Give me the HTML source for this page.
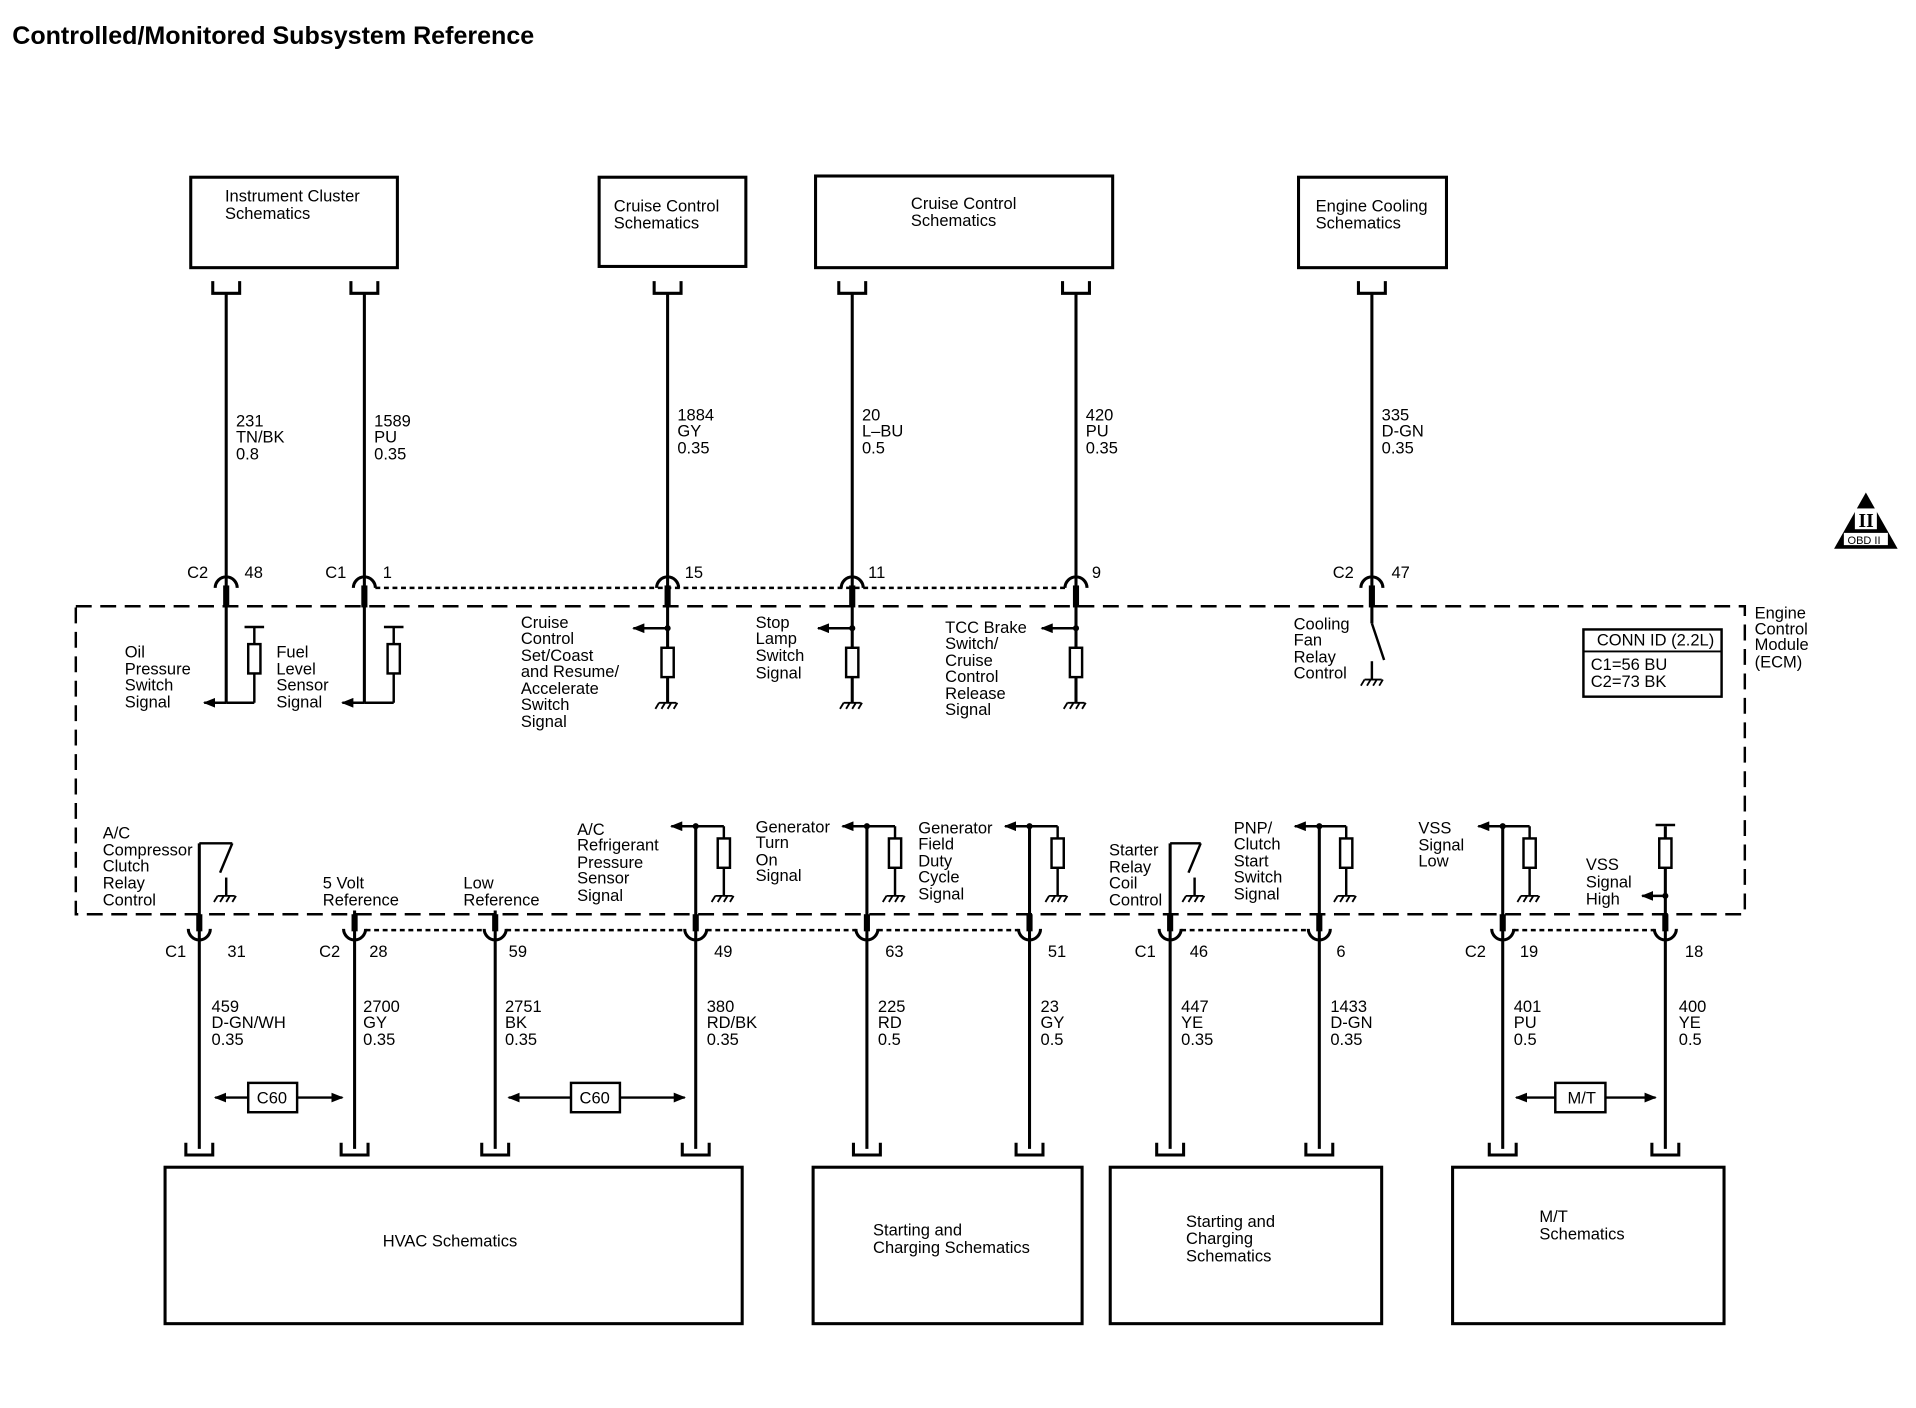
<!DOCTYPE html>
<html><head><meta charset="utf-8"><style>
html,body{margin:0;padding:0;background:#fff;}
svg{display:block;}
text{font-family:"Liberation Sans",Arial,sans-serif;font-size:13.5px;fill:#000;}
</style></head><body>
<svg width="1916" height="1408" viewBox="0 0 1567 1152" preserveAspectRatio="none" xmlns="http://www.w3.org/2000/svg">
<defs>
<marker id="ar" markerWidth="10" markerHeight="8" refX="9" refY="4" orient="auto" markerUnits="userSpaceOnUse"><path d="M0,0 L10,4 L0,8 z" fill="#000"/></marker>
<g id="cn"><path d="M-11,-6 V4 H11 V-6" fill="none" stroke="#000" stroke-width="2.5"/></g>
<g id="pin"><path d="M-9,8 A9,9 0 0 1 9,8" fill="none" stroke="#000" stroke-width="2.5"/><line x1="0" y1="6" x2="0" y2="24" stroke="#000" stroke-width="5"/></g>
<g id="bpin"><path d="M-9,0 A9,9 0 0 0 9,0" fill="none" stroke="#000" stroke-width="2.5"/><line x1="0" y1="-12" x2="0" y2="2" stroke="#000" stroke-width="5"/></g>
<g id="gnd"><path d="M-7,0 H7 M-7,0 l-3,5 M-2,0 l-3,5 M3,0 l-3,5 M8,0 l-3,5" stroke="#000" stroke-width="1.5" fill="none"/></g>
</defs>
<text x="10" y="36" style="font-size:20.5px;font-weight:bold">Controlled/Monitored Subsystem Reference</text>

<g fill="none" stroke="#000" stroke-width="2.5">
<rect x="156" y="145" width="169" height="74"/>
<rect x="490" y="145" width="120" height="73"/>
<rect x="667" y="144" width="243" height="75"/>
<rect x="1062" y="145" width="121" height="74"/>
<rect x="135" y="955" width="472" height="128"/>
<rect x="665" y="955" width="220" height="128"/>
<rect x="908" y="955" width="222" height="128"/>
<rect x="1188" y="955" width="222" height="128"/>
</g>
<text x="184" y="165">Instrument Cluster</text><text x="184" y="179">Schematics</text>
<text x="502" y="173">Cruise Control</text><text x="502" y="187">Schematics</text>
<text x="745" y="171">Cruise Control</text><text x="745" y="185">Schematics</text>
<text x="1076" y="173">Engine Cooling</text><text x="1076" y="187">Schematics</text>
<text x="313" y="1020">HVAC Schematics</text>
<text x="714" y="1011">Starting and</text><text x="714" y="1025">Charging Schematics</text>
<text x="970" y="1004">Starting and</text><text x="970" y="1018">Charging</text><text x="970" y="1032">Schematics</text>
<text x="1259" y="1000">M/T</text><text x="1259" y="1014">Schematics</text>

<g stroke="#000" stroke-width="2.5">
<line x1="185" y1="240" x2="185" y2="575"/>
<line x1="298" y1="240" x2="298" y2="575"/>
<line x1="546" y1="240" x2="546" y2="575"/>
<line x1="697" y1="240" x2="697" y2="575"/>
<line x1="880" y1="240" x2="880" y2="575"/>
<line x1="1122" y1="240" x2="1122" y2="510"/>
</g>
<use href="#cn" x="185" y="236"/><use href="#cn" x="298" y="236"/><use href="#cn" x="546" y="236"/>
<use href="#cn" x="697" y="236"/><use href="#cn" x="880" y="236"/><use href="#cn" x="1122" y="236"/>
<use href="#pin" x="185" y="473"/><use href="#pin" x="298" y="473"/><use href="#pin" x="546" y="473"/>
<use href="#pin" x="697" y="473"/><use href="#pin" x="880" y="473"/><use href="#pin" x="1122" y="473"/>
<line x1="307" y1="481" x2="871" y2="481" stroke="#000" stroke-width="2" stroke-dasharray="4,3"/>

<text x="193" y="349">231</text><text x="193" y="362">TN/BK</text><text x="193" y="376">0.8</text>
<text x="306" y="349">1589</text><text x="306" y="362">PU</text><text x="306" y="376">0.35</text>
<text x="554" y="344">1884</text><text x="554" y="357">GY</text><text x="554" y="371">0.35</text>
<text x="705" y="344">20</text><text x="705" y="357">L–BU</text><text x="705" y="371">0.5</text>
<text x="888" y="344">420</text><text x="888" y="357">PU</text><text x="888" y="371">0.35</text>
<text x="1130" y="344">335</text><text x="1130" y="357">D-GN</text><text x="1130" y="371">0.35</text>

<text x="153" y="473">C2</text><text x="200" y="473">48</text>
<text x="266" y="473">C1</text><text x="313" y="473">1</text>
<text x="560" y="473">15</text><text x="710" y="473">11</text><text x="893" y="473">9</text>
<text x="1090" y="473">C2</text><text x="1138" y="473">47</text>

<rect x="62" y="496" width="1365" height="252" fill="none" stroke="#000" stroke-width="2" stroke-dasharray="13,7"/>
<text x="1435" y="506">Engine</text><text x="1435" y="519">Control</text><text x="1435" y="532">Module</text><text x="1435" y="546">(ECM)</text>
<rect x="1295" y="515" width="113" height="55" fill="none" stroke="#000" stroke-width="2"/>
<line x1="1295" y1="533" x2="1408" y2="533" stroke="#000" stroke-width="1.5"/>
<text x="1306" y="528">CONN ID (2.2L)</text><text x="1301" y="548">C1=56 BU</text><text x="1301" y="562">C2=73 BK</text>

<path d="M1526,403 L1552,449 L1500,449 Z" fill="#000"/>
<rect x="1517" y="416" width="18" height="17" fill="#fff"/>
<text x="1520" y="431" style="font-size:16px;font-weight:bold;font-family:'Liberation Serif',serif">II</text>
<rect x="1508" y="436" width="36" height="10" fill="#fff"/>
<text x="1511" y="445" style="font-size:9px">OBD II</text>

<g stroke="#000" stroke-width="2" fill="#fff">
<line x1="185" y1="575" x2="167" y2="575" marker-end="url(#ar)"/>
<line x1="208" y1="513" x2="208" y2="575"/><line x1="200" y1="513" x2="216" y2="513"/><line x1="185" y1="575" x2="208" y2="575"/>
<rect x="203" y="527" width="10" height="24"/>
<line x1="298" y1="575" x2="280" y2="575" marker-end="url(#ar)"/>
<line x1="322" y1="513" x2="322" y2="575"/><line x1="314" y1="513" x2="330" y2="513"/><line x1="298" y1="575" x2="322" y2="575"/>
<rect x="317" y="527" width="10" height="24"/>
<line x1="546" y1="514" x2="518" y2="514" marker-end="url(#ar)"/><rect x="541" y="530" width="10" height="24"/>
<line x1="697" y1="514" x2="669" y2="514" marker-end="url(#ar)"/><rect x="692" y="530" width="10" height="24"/>
<line x1="880" y1="514" x2="852" y2="514" marker-end="url(#ar)"/><rect x="875" y="530" width="10" height="24"/>
<line x1="1122" y1="510" x2="1132" y2="540" /><line x1="1122" y1="541" x2="1122" y2="556"/>
</g>
<g fill="#000"><circle cx="546" cy="514" r="2.5"/><circle cx="697" cy="514" r="2.5"/><circle cx="880" cy="514" r="2.5"/></g>
<use href="#gnd" x="546" y="575"/><use href="#gnd" x="697" y="575"/><use href="#gnd" x="880" y="575"/><use href="#gnd" x="1123" y="556"/>

<text x="102" y="538">Oil</text><text x="102" y="552">Pressure</text><text x="102" y="565">Switch</text><text x="102" y="579">Signal</text>
<text x="226" y="538">Fuel</text><text x="226" y="552">Level</text><text x="226" y="565">Sensor</text><text x="226" y="579">Signal</text>
<text x="426" y="514">Cruise</text><text x="426" y="527">Control</text><text x="426" y="541">Set/Coast</text><text x="426" y="554">and Resume/</text><text x="426" y="568">Accelerate</text><text x="426" y="581">Switch</text><text x="426" y="595">Signal</text>
<text x="618" y="514">Stop</text><text x="618" y="527">Lamp</text><text x="618" y="541">Switch</text><text x="618" y="555">Signal</text>
<text x="773" y="518">TCC Brake</text><text x="773" y="531">Switch/</text><text x="773" y="545">Cruise</text><text x="773" y="558">Control</text><text x="773" y="572">Release</text><text x="773" y="585">Signal</text>
<text x="1058" y="515">Cooling</text><text x="1058" y="528">Fan</text><text x="1058" y="542">Relay</text><text x="1058" y="555">Control</text>

<g stroke="#000" stroke-width="2.5">
<line x1="163" y1="690" x2="163" y2="940"/>
<line x1="290" y1="745" x2="290" y2="940"/>
<line x1="405" y1="745" x2="405" y2="940"/>
<line x1="569" y1="676" x2="569" y2="940"/>
<line x1="709" y1="676" x2="709" y2="940"/>
<line x1="842" y1="676" x2="842" y2="940"/>
<line x1="957" y1="690" x2="957" y2="940"/>
<line x1="1079" y1="676" x2="1079" y2="940"/>
<line x1="1229" y1="676" x2="1229" y2="940"/>
<line x1="1362" y1="676" x2="1362" y2="940"/>
</g>
<g>
<use href="#bpin" x="163" y="760"/><use href="#bpin" x="290" y="760"/><use href="#bpin" x="405" y="760"/><use href="#bpin" x="569" y="760"/>
<use href="#bpin" x="709" y="760"/><use href="#bpin" x="842" y="760"/><use href="#bpin" x="957" y="760"/><use href="#bpin" x="1079" y="760"/>
<use href="#bpin" x="1229" y="760"/><use href="#bpin" x="1362" y="760"/>
<use href="#cn" x="163" y="941"/><use href="#cn" x="290" y="941"/><use href="#cn" x="405" y="941"/><use href="#cn" x="569" y="941"/>
<use href="#cn" x="709" y="941"/><use href="#cn" x="842" y="941"/><use href="#cn" x="957" y="941"/><use href="#cn" x="1079" y="941"/>
<use href="#cn" x="1229" y="941"/><use href="#cn" x="1362" y="941"/>
</g>
<g stroke="#000" stroke-width="2" stroke-dasharray="4,3">
<line x1="299" y1="761" x2="396" y2="761"/><line x1="414" y1="761" x2="560" y2="761"/>
<line x1="578" y1="761" x2="700" y2="761"/><line x1="718" y1="761" x2="833" y2="761"/>
<line x1="966" y1="761" x2="1070" y2="761"/><line x1="1238" y1="761" x2="1353" y2="761"/>
</g>

<text x="135" y="783">C1</text><text x="186" y="783">31</text>
<text x="261" y="783">C2</text><text x="302" y="783">28</text>
<text x="416" y="783">59</text><text x="584" y="783">49</text><text x="724" y="783">63</text><text x="857" y="783">51</text>
<text x="928" y="783">C1</text><text x="973" y="783">46</text><text x="1093" y="783">6</text>
<text x="1198" y="783">C2</text><text x="1243" y="783">19</text><text x="1378" y="783">18</text>

<text x="173" y="828">459</text><text x="173" y="841">D-GN/WH</text><text x="173" y="855">0.35</text>
<text x="297" y="828">2700</text><text x="297" y="841">GY</text><text x="297" y="855">0.35</text>
<text x="413" y="828">2751</text><text x="413" y="841">BK</text><text x="413" y="855">0.35</text>
<text x="578" y="828">380</text><text x="578" y="841">RD/BK</text><text x="578" y="855">0.35</text>
<text x="718" y="828">225</text><text x="718" y="841">RD</text><text x="718" y="855">0.5</text>
<text x="851" y="828">23</text><text x="851" y="841">GY</text><text x="851" y="855">0.5</text>
<text x="966" y="828">447</text><text x="966" y="841">YE</text><text x="966" y="855">0.35</text>
<text x="1088" y="828">1433</text><text x="1088" y="841">D-GN</text><text x="1088" y="855">0.35</text>
<text x="1238" y="828">401</text><text x="1238" y="841">PU</text><text x="1238" y="855">0.5</text>
<text x="1373" y="828">400</text><text x="1373" y="841">YE</text><text x="1373" y="855">0.5</text>

<g stroke="#000" stroke-width="2" fill="none">
<line x1="203" y1="898" x2="176" y2="898" marker-end="url(#ar)"/><line x1="243" y1="898" x2="280" y2="898" marker-end="url(#ar)"/>
<rect x="203" y="886" width="40" height="24"/>
<line x1="467" y1="898" x2="416" y2="898" marker-end="url(#ar)"/><line x1="507" y1="898" x2="560" y2="898" marker-end="url(#ar)"/>
<rect x="467" y="886" width="40" height="24"/>
<line x1="1272" y1="898" x2="1240" y2="898" marker-end="url(#ar)"/><line x1="1313" y1="898" x2="1354" y2="898" marker-end="url(#ar)"/>
<rect x="1272" y="886" width="41" height="24"/>
</g>
<text x="210" y="903">C60</text><text x="474" y="903">C60</text><text x="1282" y="903">M/T</text>

<g stroke="#000" stroke-width="2" fill="#fff">
<line x1="163" y1="690" x2="190" y2="690"/><line x1="190" y1="690" x2="180" y2="714"/><line x1="185" y1="718" x2="185" y2="733"/>
<line x1="957" y1="690" x2="982" y2="690"/><line x1="982" y1="690" x2="972" y2="714"/><line x1="977" y1="718" x2="977" y2="733"/>
<line x1="569" y1="676" x2="549" y2="676" marker-end="url(#ar)"/><line x1="569" y1="676" x2="592" y2="676"/><line x1="592" y1="676" x2="592" y2="733"/><rect x="587" y="686" width="10" height="24"/>
<line x1="709" y1="676" x2="689" y2="676" marker-end="url(#ar)"/><line x1="709" y1="676" x2="732" y2="676"/><line x1="732" y1="676" x2="732" y2="733"/><rect x="727" y="686" width="10" height="24"/>
<line x1="842" y1="676" x2="822" y2="676" marker-end="url(#ar)"/><line x1="842" y1="676" x2="865" y2="676"/><line x1="865" y1="676" x2="865" y2="733"/><rect x="860" y="686" width="10" height="24"/>
<line x1="1079" y1="676" x2="1059" y2="676" marker-end="url(#ar)"/><line x1="1079" y1="676" x2="1101" y2="676"/><line x1="1101" y1="676" x2="1101" y2="733"/><rect x="1096" y="686" width="10" height="24"/>
<line x1="1229" y1="676" x2="1209" y2="676" marker-end="url(#ar)"/><line x1="1229" y1="676" x2="1251" y2="676"/><line x1="1251" y1="676" x2="1251" y2="733"/><rect x="1246" y="686" width="10" height="24"/>
<line x1="1354" y1="675" x2="1370" y2="675"/><rect x="1357" y="686" width="10" height="24"/>
<line x1="1362" y1="733" x2="1343" y2="733" marker-end="url(#ar)"/>
</g>
<use href="#gnd" x="185" y="733"/><use href="#gnd" x="977" y="733"/><use href="#gnd" x="592" y="733"/><use href="#gnd" x="732" y="733"/>
<use href="#gnd" x="865" y="733"/><use href="#gnd" x="1101" y="733"/><use href="#gnd" x="1251" y="733"/>
<g fill="#000"><circle cx="569" cy="676" r="2.5"/><circle cx="709" cy="676" r="2.5"/><circle cx="842" cy="676" r="2.5"/><circle cx="1079" cy="676" r="2.5"/><circle cx="1229" cy="676" r="2.5"/><circle cx="1362" cy="733" r="2.5"/></g>

<text x="84" y="686">A/C</text><text x="84" y="700">Compressor</text><text x="84" y="713">Clutch</text><text x="84" y="727">Relay</text><text x="84" y="741">Control</text>
<text x="264" y="727">5 Volt</text><text x="264" y="741">Reference</text>
<text x="379" y="727">Low</text><text x="379" y="741">Reference</text>
<text x="472" y="683">A/C</text><text x="472" y="696">Refrigerant</text><text x="472" y="710">Pressure</text><text x="472" y="723">Sensor</text><text x="472" y="737">Signal</text>
<text x="618" y="681">Generator</text><text x="618" y="694">Turn</text><text x="618" y="708">On</text><text x="618" y="721">Signal</text>
<text x="751" y="682">Generator</text><text x="751" y="695">Field</text><text x="751" y="709">Duty</text><text x="751" y="722">Cycle</text><text x="751" y="736">Signal</text>
<text x="907" y="700">Starter</text><text x="907" y="714">Relay</text><text x="907" y="727">Coil</text><text x="907" y="741">Control</text>
<text x="1009" y="682">PNP/</text><text x="1009" y="695">Clutch</text><text x="1009" y="709">Start</text><text x="1009" y="722">Switch</text><text x="1009" y="736">Signal</text>
<text x="1160" y="682">VSS</text><text x="1160" y="696">Signal</text><text x="1160" y="709">Low</text>
<text x="1297" y="712">VSS</text><text x="1297" y="726">Signal</text><text x="1297" y="740">High</text>
</svg>
</body></html>
